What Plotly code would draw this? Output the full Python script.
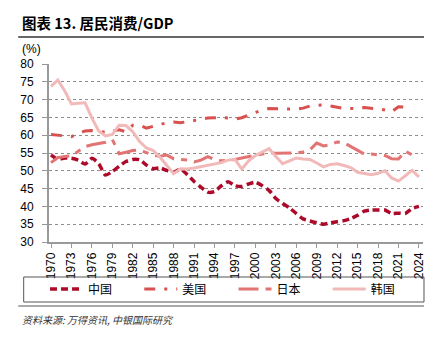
import plotly.graph_objects as go

years = list(range(1970, 2025))
tick_years = list(range(1970, 2025, 3))
tick_labels = [str(y) for y in tick_years]

china = [54.5, 53.2, 53.6, 53.5, 53.0, 51.9, 53.5, 52.0, 48.8, 49.8,
         51.3, 52.6, 53.2, 53.1, 51.6, 50.6, 50.8, 50.1, 49.6, 50.5,
         48.9, 47.0, 45.4, 44.0, 44.2, 45.8, 46.9, 45.8, 45.6, 46.3,
         46.8, 45.8, 44.5, 42.2, 40.8, 39.6, 38.0, 36.5, 35.9, 35.4,
         35.0, 35.4, 35.7, 36.0, 36.6, 37.5, 38.7, 39.0, 39.0, 39.0,
         38.0, 38.1, 38.0, 39.4, 40.0]
usa = [60.2, 60.1, 59.8, 59.6, 60.5, 61.2, 61.3, 61.0, 60.8, 61.2,
       61.5, 61.0, 62.8, 62.8, 62.0, 62.5, 63.0, 63.5, 63.7, 63.5,
       63.8, 64.2, 64.5, 64.8, 64.9, 65.0, 64.8, 64.5, 64.9, 65.6,
       66.3, 67.1, 67.5, 67.5, 67.4, 67.3, 67.3, 67.6, 68.2, 68.4,
       68.5, 68.2, 67.8, 67.5, 67.5, 67.5, 67.8, 67.6, 67.4, 67.1,
       66.6, 68.0, 67.9, 67.9, None]
japan = [52.3, 53.7, 54.0, 54.2, 55.5, 56.8, 57.3, 57.6, 58.0, 58.8,
         54.8, 55.2, 55.7, 55.8, 55.0, 54.4, 54.1, 54.4, 53.4, 53.2,
         53.0, 52.5, 53.0, 54.0, 53.2, 52.8, 52.9, 53.2, 53.6, 54.1,
         54.4, 54.7, 55.0, 54.9, 54.9, 55.0, 55.0, 55.3, 55.9, 57.8,
         57.0, 57.3, 58.1, 57.9, 56.8, 55.7, 54.7, 54.7, 54.6, 54.3,
         53.4, 53.3, 55.5, 54.5, None]
korea = [73.7, 75.5, 72.5, 68.8, 69.0, 69.1, 64.8, 61.2, 59.8, 60.2,
         62.8, 62.7, 61.0, 58.2, 56.4, 55.7, 53.8, 51.5, 49.2, 50.6,
         50.5, 50.8, 51.2, 51.5, 51.9, 52.3, 53.0, 53.2, 50.5, 52.8,
         54.3, 55.2, 56.2, 54.0, 52.0, 52.8, 53.6, 53.3, 53.2, 52.2,
         51.1, 51.8, 52.0, 51.5, 50.9, 49.6, 49.2, 48.9, 49.3, 50.0,
         48.0, 47.1, 48.6, 50.1, 48.3]

names = ["中国", "美国", "日本", "韩国"]
colors = ["#AD0A2A", "#D9514E", "#E27474", "#F2B9B9"]

fig = go.Figure()
fig.add_trace(go.Scatter(x=years, y=china, name=names[0], mode="lines", legend="legend",
                         line=dict(color=colors[0], width=3.5, dash="7px,4px", shape="spline", smoothing=0.6)))
fig.add_trace(go.Scatter(x=years, y=usa, name=names[1], mode="lines", legend="legend2",
                         line=dict(color=colors[1], width=3, dash="11px,9px,3px,9px")))
fig.add_trace(go.Scatter(x=years, y=japan, name=names[2], mode="lines", legend="legend3",
                         line=dict(color=colors[2], width=3, dash="20px,7px,6px,7px")))
fig.add_trace(go.Scatter(x=years, y=korea, name=names[3], mode="lines", legend="legend4",
                         line=dict(color=colors[3], width=3)))

L, R, T, B = 49, 12, 64, 103
W, H = 438, 345
pw = W - L - R
ph = H - T - B

def px_x(x):
    return (x - L) / pw

def px_y(y):
    return (H - B - y) / ph

base_font = "Liberation Sans, Arial, sans-serif"
cjk_font = "Noto Sans CJK SC, sans-serif"

def leg(xpx):
    return dict(orientation="h", x=px_x(xpx), xanchor="left", y=px_y(289), yanchor="middle",
                font=dict(family=cjk_font, size=12, color="#000000"),
                bgcolor="rgba(0,0,0,0)", borderwidth=0, itemwidth=33)

fig.update_layout(
    width=W, height=H,
    margin=dict(l=L, r=R, t=T, b=B, pad=0),
    paper_bgcolor="white", plot_bgcolor="white",
    font=dict(family=base_font, size=12, color="#000000"),
    showlegend=True,
    legend=leg(45), legend2=leg(140), legend3=leg(235), legend4=leg(330),
    xaxis=dict(range=[1969.7, 2024.6], tickvals=tick_years, ticktext=tick_labels,
               tickangle=-90, ticks="outside", ticklen=4, tickcolor="#999999",
               showline=True, linecolor="#999999", linewidth=1.5, showgrid=False,
               zeroline=False, tickfont=dict(size=12, family=base_font, color="#000")),
    yaxis=dict(range=[30, 80], dtick=5, tick0=30, ticks="outside", ticklen=5,
               tickcolor="#999999", showline=True, linecolor="#999999", linewidth=2,
               showgrid=True, gridcolor="#8c8c8c", gridwidth=1, griddash="dot",
               zeroline=False, ticklabelstandoff=6,
               tickfont=dict(size=12, family=base_font, color="#000")),
)

shapes = [
    dict(type="line", xref="paper", yref="paper", x0=px_x(18), x1=px_x(427),
         y0=px_y(37), y1=px_y(37), line=dict(color="#333333", width=1.5)),
    dict(type="rect", xref="paper", yref="paper", x0=px_x(23.5), x1=px_x(427),
         y0=px_y(277), y1=px_y(302), line=dict(color="#555555", width=1)),
    dict(type="line", xref="paper", yref="paper", x0=px_x(18), x1=px_x(427),
         y0=px_y(306), y1=px_y(306), line=dict(color="#555555", width=1)),
]
fig.update_layout(shapes=shapes)

annotations = [
    dict(text="<b>图表 13. 居民消费/GDP</b>", xref="paper", yref="paper",
         x=px_x(20), y=px_y(22), xanchor="left", yanchor="middle", showarrow=False,
         font=dict(family=cjk_font, size=14.5, color="#000")),
    dict(text="(%)", xref="paper", yref="paper", x=px_x(20), y=px_y(49),
         xanchor="left", yanchor="middle", showarrow=False,
         font=dict(family=base_font, size=12, color="#000")),
    dict(text="<i>资料来源: 万得资讯, 中银国际研究</i>", xref="paper", yref="paper",
         x=px_x(20), y=px_y(319), xanchor="left", yanchor="middle", showarrow=False,
         font=dict(family=cjk_font, size=10, color="#333333")),
]
fig.update_layout(annotations=annotations)

fig.write_html("out.html")
